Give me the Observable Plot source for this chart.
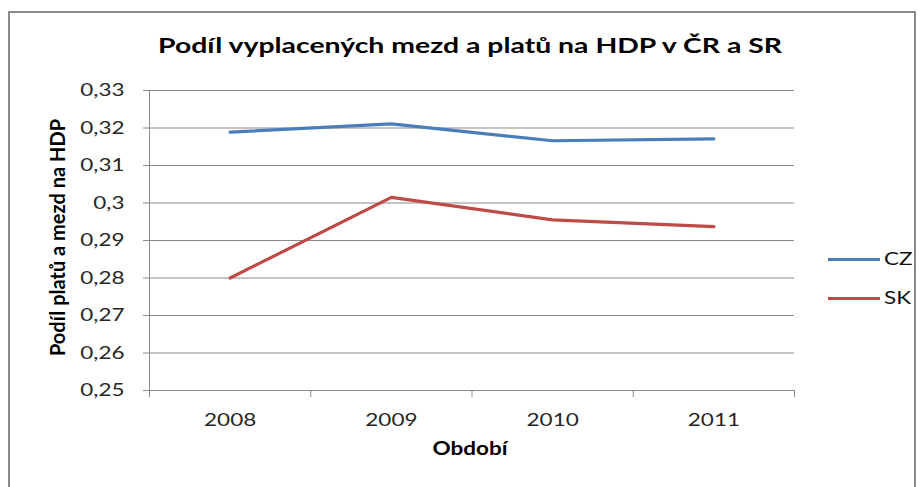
<!DOCTYPE html>
<html><head><meta charset="utf-8">
<script src="https://cdn.jsdelivr.net/npm/d3@7"></script>
<script src="https://cdn.jsdelivr.net/npm/@observablehq/plot@0.6"></script>
<style>
body{margin:0;background:#fff;}
#wrap{position:relative;width:922px;height:487px;overflow:hidden;font-family:Lato,"Open Sans",sans-serif;}
#frame{position:absolute;left:8px;top:11px;width:908px;height:520px;border:2px solid #8a8a8a;box-sizing:border-box;background:#fff;}
#title{position:absolute;top:32px;left:0;white-space:nowrap;font-weight:bold;font-size:21px;color:#000;transform-origin:0 0;line-height:1.2;}
#chart{position:absolute;left:0;top:0;}
.leg{position:absolute;left:828px;width:52px;height:0;border-top:3px solid;}
.legt{position:absolute;left:884px;font-size:18px;color:#111;white-space:nowrap;transform-origin:0 50%;line-height:1.2;}
</style></head>
<body>
<div id="wrap">
  <div id="frame"></div>
  <div id="chart"></div>
  <div id="title"></div>
  <div id="legend"></div>
</div>
<script>
const titleText = "Podíl vyplacených mezd a platů na HDP v ČR a SR";
const yLabel = "Podíl platů a mezd na HDP";
const xLabel = "Období";
const years = [2008, 2009, 2010, 2011];
const series = ["CZ", "SK"];
const colors = ["#4a7ebb", "#be4b48"];
const czValues = [0.3189, 0.3211, 0.3166, 0.3171];
const skValues = [0.2800, 0.3015, 0.2955, 0.2937];
const yTicks = [0.25, 0.26, 0.27, 0.28, 0.29, 0.30, 0.31, 0.32, 0.33];

const data = years.flatMap((yr, i) => [
  {year: yr, value: czValues[i], s: "CZ"},
  {year: yr, value: skValues[i], s: "SK"}
]);
const bounds = years.map(y => y - 0.5).concat([years[years.length - 1] + 0.5]);
const fmt = d => String(+d.toFixed(2)).replace(".", ",");
const grey = "#8a8a8a";

const plot = Plot.plot({
  width: 922, height: 487,
  marginLeft: 149, marginRight: 128, marginTop: 90, marginBottom: 97,
  style: {fontFamily: "Lato, 'Open Sans', sans-serif", fontSize: "18px", color: "#262626", background: "transparent", overflow: "visible"},
  x: {type: "linear", domain: [bounds[0], bounds[bounds.length - 1]]},
  y: {domain: [yTicks[0], yTicks[yTicks.length - 1]]},
  color: {domain: series, range: colors},
  marks: [
    Plot.gridY(yTicks, {stroke: grey, strokeOpacity: 1, strokeWidth: 1}),
    Plot.ruleX([bounds[0]], {stroke: grey, strokeWidth: 1}),
    Plot.axisY(yTicks, {tickSize: 6, tickPadding: 19, tickFormat: fmt, stroke: grey, strokeOpacity: 1, label: null, fill: "#262626"}),
    Plot.axisX(bounds, {tickSize: 7, tickFormat: () => "", stroke: grey, strokeOpacity: 1, label: null}),
    Plot.axisX(years, {tickSize: 0, tickPadding: 23, tickFormat: d => String(d), label: null, fill: "#262626"}),
    Plot.text([yLabel], {frameAnchor: "left", textAnchor: "middle", dx: -91, dy: -3, rotate: -90, fontWeight: "bold", fontSize: 20, fill: "#000", className: "ylab"}),
    Plot.text([xLabel], {frameAnchor: "bottom", textAnchor: "middle", dx: -2, dy: 64, fontWeight: "bold", fontSize: 18, fill: "#000", className: "xlab"}),
    Plot.line(data, {x: "year", y: "value", z: "s", stroke: "s", strokeWidth: 3.2, strokeLinejoin: "round", strokeLinecap: "round"})
  ]
});
plot.setAttribute("id", "plotsvg");
document.getElementById("chart").appendChild(plot);

// stretch horizontal texts like the stretched original
const K = 1.25;
plot.querySelectorAll('g[aria-label$="tick label"] text, .xlab text').forEach(t => {
  const w = t.getComputedTextLength();
  if (w > 0) { t.setAttribute("textLength", w * K); t.setAttribute("lengthAdjust", "spacingAndGlyphs"); }
});

// title
const title = document.getElementById("title");
title.textContent = titleText;
const tw = title.getBoundingClientRect().width;
title.style.left = "158px";
title.style.transform = `scaleX(${624 / tw})`;

// legend
const legend = document.getElementById("legend");
const legY = [259, 298];
series.forEach((s, i) => {
  const l = document.createElement("div");
  l.className = "leg";
  l.style.top = (legY[i] - 1.5) + "px";
  l.style.borderTopColor = colors[i];
  legend.appendChild(l);
  const t = document.createElement("div");
  t.className = "legt";
  t.textContent = s;
  t.style.top = (legY[i] - 11) + "px";
  t.style.transform = `scaleX(${K})`;
  legend.appendChild(t);
});
</script>
</body></html>
